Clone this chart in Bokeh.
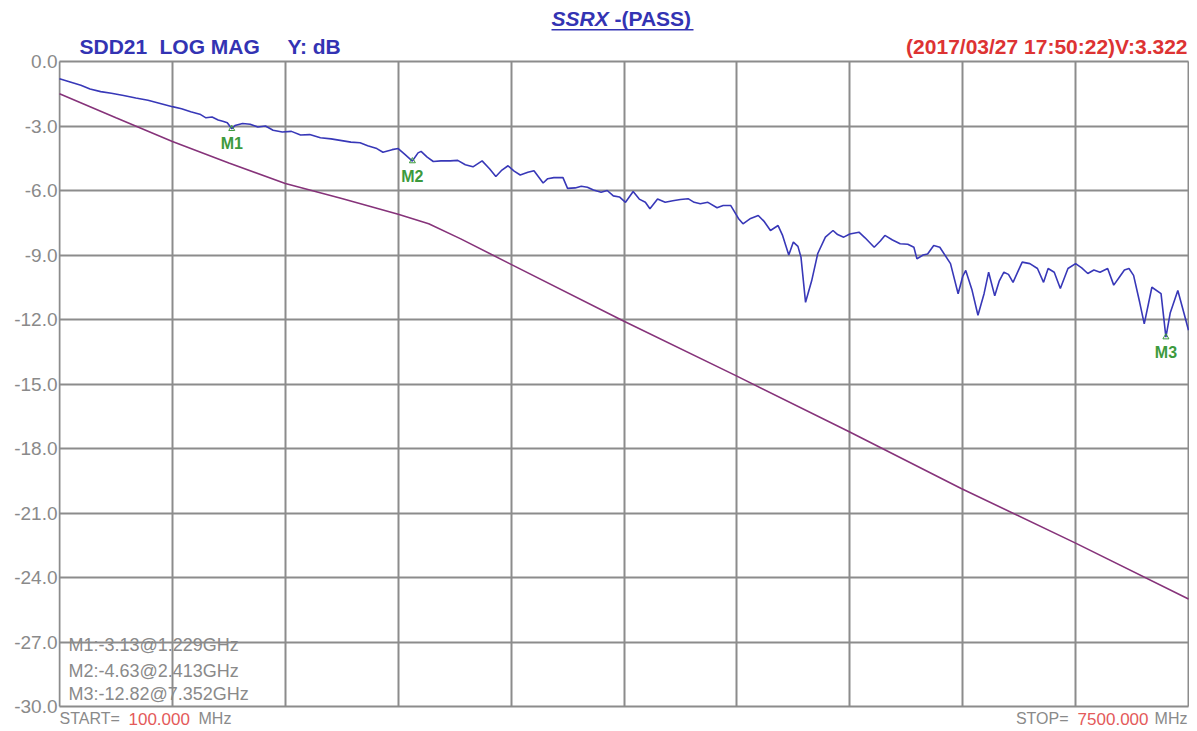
import numpy as np
from bokeh.plotting import figure
from bokeh.models import FixedTicker, PrintfTickFormatter, Label, Range1d
from bokeh.embed import file_html
from bokeh.resources import INLINE
from bokeh.core.properties import value

# ---------------- data ----------------
start_ghz = 0.1
stop_ghz = 7.5
y_ticks = [0, -3, -6, -9, -12, -15, -18, -21, -24, -27, -30]

sdd21_f = [0.10, 0.17, 0.24, 0.30, 0.37, 0.44, 0.52, 0.60, 0.68, 0.76, 0.84, 0.90, 0.96, 1.02,
           1.06, 1.10, 1.14, 1.17, 1.20, 1.229, 1.25, 1.30, 1.35, 1.40, 1.45, 1.50, 1.56, 1.62,
           1.68, 1.74, 1.81, 1.88, 1.95, 2.01, 2.07, 2.12, 2.18, 2.22, 2.28, 2.32, 2.36, 2.413,
           2.45, 2.47, 2.51, 2.55, 2.60, 2.66, 2.71, 2.76, 2.81, 2.87, 2.92, 2.96, 3.00, 3.04,
           3.08, 3.12, 3.17, 3.21, 3.27, 3.30, 3.34, 3.40, 3.43, 3.48, 3.52, 3.56, 3.60, 3.65,
           3.69, 3.73, 3.77, 3.81, 3.86, 3.90, 3.94, 3.97, 4.02, 4.07, 4.12, 4.17, 4.22, 4.26,
           4.30, 4.35, 4.41, 4.45, 4.50, 4.55, 4.58, 4.63, 4.68, 4.72, 4.76, 4.81, 4.84, 4.88,
           4.91, 4.94, 4.96, 4.99, 5.03, 5.07, 5.12, 5.17, 5.20, 5.24, 5.28, 5.34, 5.38, 5.44,
           5.48, 5.51, 5.56, 5.61, 5.66, 5.70, 5.72, 5.76, 5.79, 5.83, 5.87, 5.94, 5.99, 6.02,
           6.04, 6.08, 6.12, 6.16, 6.19, 6.23, 6.26, 6.29, 6.32, 6.35, 6.38, 6.41, 6.46, 6.51,
           6.55, 6.58, 6.62, 6.66, 6.71, 6.76, 6.80, 6.84, 6.88, 6.92, 6.97, 7.01, 7.05, 7.08,
           7.11, 7.14, 7.18, 7.21, 7.26, 7.32, 7.352, 7.38, 7.43, 7.47, 7.50]
sdd21_db = [-0.80, -0.95, -1.10, -1.28, -1.40, -1.48, -1.58, -1.70, -1.80, -1.95, -2.10, -2.20, -2.34, -2.45,
            -2.62, -2.58, -2.72, -2.78, -2.85, -3.13, -2.98, -2.88, -2.92, -3.05, -3.00, -3.20, -3.28, -3.25,
            -3.42, -3.40, -3.55, -3.60, -3.68, -3.75, -3.78, -3.92, -4.05, -4.22, -4.10, -4.05, -4.30, -4.63,
            -4.25, -4.18, -4.45, -4.65, -4.62, -4.62, -4.60, -4.80, -4.90, -4.62, -5.00, -5.35, -5.05, -4.85,
            -5.10, -5.28, -5.15, -5.08, -5.65, -5.45, -5.40, -5.40, -5.90, -5.88, -5.80, -5.85, -5.98, -6.08,
            -6.00, -6.25, -6.30, -6.55, -6.05, -6.40, -6.55, -6.85, -6.40, -6.55, -6.48, -6.42, -6.38, -6.55,
            -6.62, -6.55, -6.80, -6.70, -6.70, -7.30, -7.55, -7.30, -7.16, -7.45, -7.86, -7.63, -8.10, -9.00,
            -8.40, -8.60, -9.10, -11.20, -10.20, -8.93, -8.17, -7.86, -8.05, -8.17, -8.02, -7.94, -8.20, -8.64,
            -8.35, -8.09, -8.30, -8.48, -8.50, -8.64, -9.18, -9.00, -8.95, -8.56, -8.64, -9.40, -10.80, -10.00,
            -9.72, -10.60, -11.80, -10.80, -9.80, -10.90, -10.20, -9.80, -9.90, -10.27, -9.80, -9.33, -9.40, -9.63,
            -10.27, -9.63, -9.80, -10.56, -9.63, -9.40, -9.60, -9.86, -9.70, -9.80, -9.63, -10.40, -10.00, -9.70,
            -9.63, -9.95, -11.20, -12.20, -10.50, -10.80, -12.82, -11.70, -10.65, -11.70, -12.50]

limit_f = [0.10, 0.47, 0.84, 1.21, 1.58, 1.95, 2.32, 2.52, 2.73, 3.05, 3.79, 4.53, 5.27, 6.01, 6.76, 7.50]
limit_db = [-1.50, -2.62, -3.72, -4.72, -5.67, -6.37, -7.10, -7.55, -8.25, -9.40, -12.05, -14.60,
            -17.20, -19.86, -22.40, -25.00]

marker_names = ["M1", "M2", "M3"]
marker_f = [1.229, 2.413, 7.352]
marker_db = [-3.13, -4.63, -12.82]

# ---------------- styling / layout ----------------
FONT = "Liberation Sans"
GRID = "#8c8c8c"
BLUE_TXT = "#3333b3"
BLUE = "#3838b8"
PURPLE = "#86337a"
GREEN = "#3d9a3d"
GRAY_TXT = "#8a8a8a"
RED = "#dd3333"
RED_LIGHT = "#e45a5a"

W, H = 1189, 728
FRAME_L = 58                 # canvas x where the (text-holding) frame starts
CH_L, CH_R = 59, 1188        # canvas x of the chart box
CH_T, CH_B = 61, 706         # canvas y of the chart box

px_per_ghz = (CH_R - CH_L) / (stop_ghz - start_ghz)
px_per_db = (CH_B - CH_T) / 30.0
x_lo = start_ghz - (CH_L - FRAME_L) / px_per_ghz
x_hi = stop_ghz + (W - CH_R) / px_per_ghz
y_hi = 0 + CH_T / px_per_db
y_lo = -30 - (H - CH_B) / px_per_db

p = figure(width=W, height=H, output_backend="svg", toolbar_location=None,
           x_range=Range1d(x_lo, x_hi), y_range=Range1d(y_lo, y_hi),
           min_border_left=FRAME_L, min_border_right=0, min_border_top=0, min_border_bottom=0)
p.background_fill_color = "white"
p.border_fill_color = "white"
p.outline_line_color = None
p.extra_x_ranges = {"cx": Range1d(FRAME_L, W)}
p.extra_y_ranges = {"cy": Range1d(H, 0)}

x_grid_ticks = list(np.linspace(start_ghz, stop_ghz, 11))
p.xaxis.visible = False
p.xgrid.ticker = FixedTicker(ticks=x_grid_ticks)
p.ygrid.ticker = FixedTicker(ticks=y_ticks)
p.xgrid.cross_bounds = (-30, 0)
p.ygrid.cross_bounds = (start_ghz, stop_ghz)
p.grid.grid_line_color = GRID
p.grid.grid_line_width = 2
p.grid.grid_line_alpha = 1.0

p.yaxis.ticker = FixedTicker(ticks=y_ticks)
p.yaxis.formatter = PrintfTickFormatter(format="%.1f")
p.yaxis.axis_line_color = None
p.yaxis.major_tick_line_color = None
p.yaxis.minor_tick_line_color = None
p.yaxis.major_tick_out = 0
p.yaxis.major_tick_in = 0
p.yaxis.minor_tick_out = 0
p.yaxis.minor_tick_in = 0
p.yaxis.major_label_standoff = 1
p.yaxis.major_label_text_font = FONT
p.yaxis.major_label_text_font_size = "19px"
p.yaxis.major_label_text_color = GRAY_TXT

p.line(limit_f, limit_db, line_color=PURPLE, line_width=1.6)
p.line(sdd21_f, sdd21_db, line_color=BLUE, line_width=1.6)

p.scatter(marker_f, marker_db, marker="triangle", size=6, fill_color=None,
          line_color=GREEN, line_width=1)
p.text(x=marker_f, y=marker_db, text=marker_names, y_offset=15,
       text_align="center", text_baseline="middle",
       text_font=value(FONT), text_font_size="16px", text_font_style="bold",
       text_color=GREEN)


def lab(x, y, text, color, size, style="normal", align="left", canvas=True):
    kw = dict(x_range_name="cx", y_range_name="cy") if canvas else {}
    p.add_layout(Label(x=x, y=y, text=text, text_color=color, text_font=FONT,
                       text_font_size=size, text_font_style=style,
                       text_align=align, text_baseline="middle", **kw))


# header
lab(79, 46, "SDD21", BLUE_TXT, "21px", "bold")
lab(159, 46, "LOG MAG", BLUE_TXT, "21px", "bold")
lab(287, 46, "Y: dB", BLUE_TXT, "21px", "bold")
lab(551, 18, "SSRX", BLUE_TXT, "21px", "bold italic")
lab(614, 18, "-(PASS)", BLUE_TXT, "21px", "bold")
p.quad(left=[551], right=[693], top=[28.5], bottom=[30], fill_color=BLUE_TXT, line_color=None,
       x_range_name="cx", y_range_name="cy")
lab(1187, 46, "(2017/03/27 17:50:22)V:3.322", RED, "21px", "bold", "right")

# marker readout
readout_y = [-27.16, -28.33, -29.40]
for name, f, d, yy in zip(marker_names, marker_f, marker_db, readout_y):
    lab(0.159, yy, f"{name}:{d:.2f}@{f:.3f}GHz", GRAY_TXT, "18px", canvas=False)

# start / stop
fy = 718
lab(59, fy, "START=", GRAY_TXT, "16px")
lab(128, fy, f"{start_ghz * 1000:.3f}", RED_LIGHT, "17px")
lab(198, fy, "MHz", GRAY_TXT, "16px")
lab(1068, fy, "STOP=", GRAY_TXT, "16px", "normal", "right")
lab(1148, fy, f"{stop_ghz * 1000:.3f}", RED_LIGHT, "17px", "normal", "right")
lab(1187, fy, "MHz", GRAY_TXT, "16px", "normal", "right")

open("out.html", "w").write(file_html(p, INLINE))
